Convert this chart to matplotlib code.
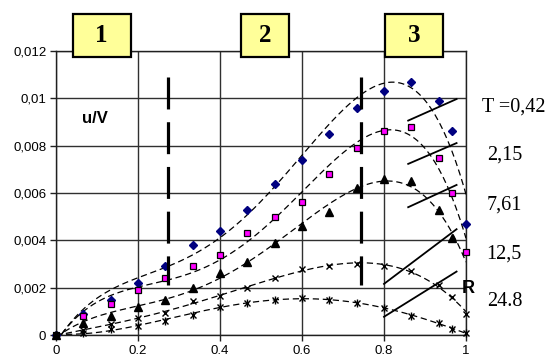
import numpy as np
import matplotlib
matplotlib.use("Agg")
import matplotlib.pyplot as plt
from matplotlib.patches import Rectangle
from matplotlib.ticker import FixedLocator

# ---- data ----
x = [0, 0.067, 0.133, 0.2, 0.267, 0.333, 0.4, 0.467, 0.533, 0.6, 0.667, 0.733,
     0.8, 0.867, 0.933, 0.967, 1.0]
t042 = [0, 0.0009, 0.0015, 0.0022, 0.0029, 0.0038, 0.0044, 0.0053, 0.0064, 0.0074,
        0.0085, 0.0096, 0.0103, 0.0107, 0.0099, 0.0086, 0.0047]
t215 = [0, 0.0008, 0.0013, 0.0019, 0.0024, 0.0029, 0.0034, 0.0043, 0.0050, 0.0056,
        0.0068, 0.0079, 0.0086, 0.0088, 0.0075, 0.0060, 0.0035]
t761 = [0, 0.0005, 0.0008, 0.0012, 0.0015, 0.0020, 0.0026, 0.0031, 0.0039, 0.0046,
        0.0052, 0.0062, 0.0066, 0.0065, 0.0053, 0.0041, np.nan]
t125 = [0, 0.0002, 0.00045, 0.0007, 0.00094, 0.00145, 0.00165, 0.0020, 0.0024, 0.0028,
        0.0029, 0.0030, 0.0029, 0.0027, 0.0021, 0.0016, 0.0009]
t248 = [0, 0.0001, 0.00025, 0.0004, 0.0006, 0.00085, 0.0012, 0.00137, 0.0015, 0.00155,
        0.0015, 0.00137, 0.00115, 0.0008, 0.0005, 0.00025, 0.0001]

labels = ["T =0,42", "2,15", "7,61", "12,5", "24.8"]
zones = ["1", "2", "3"]
zone_bounds = [0.273, 0.743]
zone_bound_range = [0.0021, 0.0109]

# pointer lines from labels to curves (x0, x1, y0, y1)
pointers = [
    (0.859, 0.977, 0.00906, 0.00997),
    (0.859, 0.977, 0.00723, 0.00811),
    (0.859, 0.977, 0.00540, 0.00634),
    (0.800, 0.977, 0.00216, 0.00447),
    (0.800, 0.977, 0.00077, 0.00268),
]

xticks = [0, 0.2, 0.4, 0.6, 0.8, 1]
xticklabels = ["0", "0.2", "0.4", "0.6", "0.8", "1"]
yticks = [0, 0.002, 0.004, 0.006, 0.008, 0.01, 0.012]
yticklabels = ["0", "0,002", "0,004", "0,006", "0,008", "0,01", "0,012"]

W, H = 550, 358
fig = plt.figure(figsize=(W / 100, H / 100), dpi=100)
L, R, T, B = 56, 466, 51, 335
ax = fig.add_axes([L / W, 1 - B / H, (R - L) / W, (B - T) / H])
ax.set_xlim(0, 1)
ax.set_ylim(0, 0.012)

sans = "Liberation Sans"
serif = "Liberation Serif"

# grid
ax.set_axisbelow(True)
ax.grid(True, color="#303030", lw=1.0)
for s in ax.spines.values():
    s.set_color("#202020")
    s.set_linewidth(1.0)
ax.xaxis.set_major_locator(FixedLocator(xticks))
ax.yaxis.set_major_locator(FixedLocator(yticks))
ax.set_xticklabels(xticklabels, fontfamily=sans, fontsize=9.5)
ax.set_yticklabels(yticklabels, fontfamily=sans, fontsize=9.5)
ax.tick_params(axis="both", length=4, width=1, color="#202020", pad=3)

xa = np.array(x)
xf = np.linspace(0, 1, 200)
series = [t042, t215, t761, t125, t248]
for s in series:
    ya = np.array(s, dtype=float)
    m = ~np.isnan(ya)
    c = np.polyfit(xa[m], ya[m], 4)
    ax.plot(xf, np.polyval(c, xf), color="black", lw=0.9, dashes=(5, 3), zorder=3)

# markers
ax.plot(x, t042, ls="none", marker="D", ms=4.3, color="#000080", zorder=4, clip_on=False)
ax.plot(x, t215, ls="none", marker="s", ms=4.8, mfc="#FF00FF", mec="black", mew=0.9,
        zorder=4, clip_on=False)
ax.plot(x, t761, ls="none", marker="^", ms=5.5, color="black", zorder=4, clip_on=False)
ax.plot(x, t125, ls="none", marker="x", ms=5, mew=1.0, color="black", zorder=4, clip_on=False)
ax.plot(x, t248, ls="none", marker="x", ms=5, mew=1.0, color="black", zorder=4, clip_on=False)
ax.plot(x, t248, ls="none", marker="|", ms=6, mew=1.0, color="black", zorder=4, clip_on=False)

# zone boundaries
for xb in zone_bounds:
    ax.plot([xb, xb], [zone_bound_range[1], zone_bound_range[0]], color="black",
            lw=2.3, dashes=(10, 4), solid_capstyle="butt", zorder=5)

# pointer lines
for (x0, x1, y0, y1) in pointers:
    ax.plot([x0, x1], [y0, y1], color="black", lw=1.3, zorder=5)

# texts
def px(xp, yp):
    return xp / W, 1 - yp / H

label_pos = [(481.7, 107), (486.7, 155.5), (486.7, 205), (486.7, 254), (486.7, 302)]
for lab, (xp, yp) in zip(labels, label_pos):
    fig.text(*px(xp, yp), lab, fontfamily=serif, fontsize=14.5, ha="left", va="center")

fig.text(*px(461.5, 288.5), "R", fontfamily=sans, fontweight="bold", fontsize=13,
         ha="left", va="center")
fig.text(*px(95, 118), "u/V", fontfamily=sans, fontweight="bold", fontsize=12,
         ha="center", va="center")

boxes = [(72.7, 130.7), (240.7, 289), (385, 443.3)]
for z, (x0, x1) in zip(zones, boxes):
    r = Rectangle(px(x0, 56.7), (x1 - x0) / W, (56.7 - 14) / H, transform=fig.transFigure,
                  facecolor="#FFFF99", edgecolor="black", lw=1.6, zorder=10)
    fig.add_artist(r)
    fig.text(*px((x0 + x1) / 2, 36), z, fontfamily=serif, fontweight="bold", fontsize=18,
             ha="center", va="center", zorder=11)

fig.savefig("out.png", dpi=100)
